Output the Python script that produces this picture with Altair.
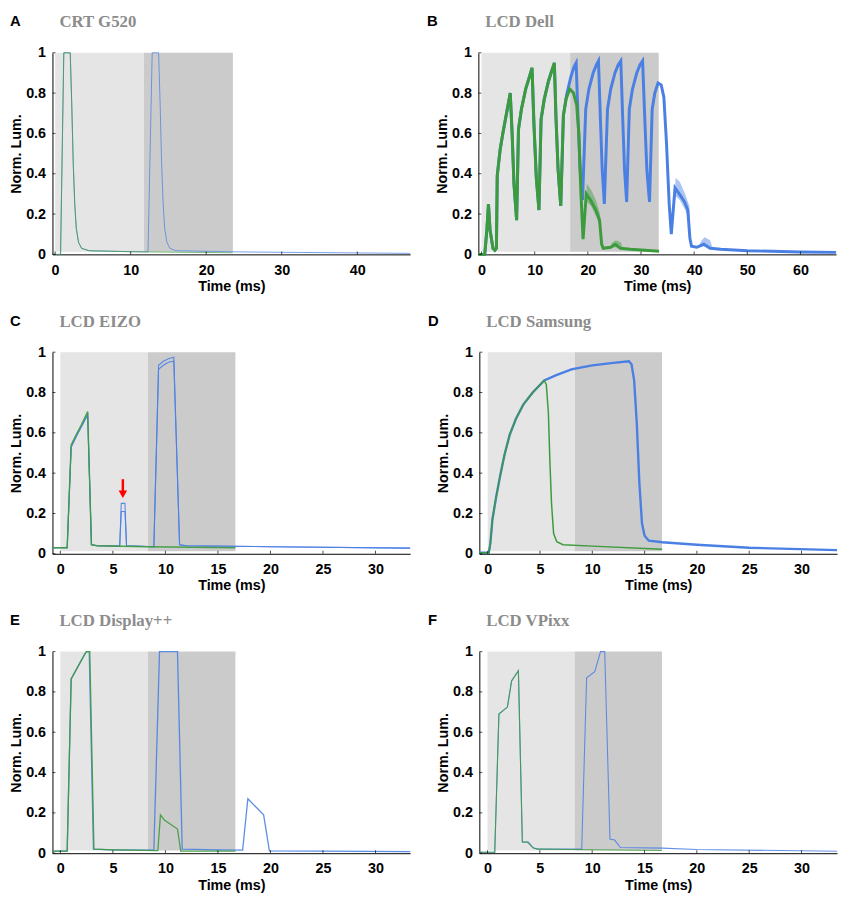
import altair as alt
import pandas as pd

# ---------------- data ----------------
Y_TICKS = [0, 0.2, 0.4, 0.6, 0.8, 1]
SHADE_BOTTOM = 0.013
LIGHT = "#e5e5e5"
DARK = "#cbcbcb"
GREEN = "#3c9b3c"
BLUE = "#4a7fe3"

# Panel A  CRT G520 (85 Hz)
A_T = 11.765
A_X = [-0.35, 47.0]
A_TICKS = [0, 10, 20, 30, 40]
A_green_t = [-0.35, 0.72, 1.15, 2.0, 2.2, 2.4, 2.6, 2.8, 3.1, 3.5, 4.5, 10.0, 23.5]
A_green_v = [0.0, 0.0, 1.0, 1.0, 0.75, 0.45, 0.25, 0.13, 0.06, 0.03, 0.018, 0.013, 0.008]
A_blue_t = [-0.35, 0.72, 1.15, 2.0, 2.2, 2.4, 2.6, 2.8, 3.1, 3.5, 4.5, 12.3, 12.85, 13.7, 13.9,
            14.1, 14.3, 14.5, 14.8, 15.2, 16.0, 25.0, 47.0]
A_blue_v = [0.0, 0.0, 1.0, 1.0, 0.75, 0.45, 0.25, 0.13, 0.06, 0.03, 0.018, 0.012, 1.0, 1.0, 0.75,
            0.45, 0.25, 0.13, 0.06, 0.03, 0.018, 0.012, 0.005]

# Panel B  LCD Dell (60 Hz)
B_T = 16.667
B_X = [-0.6, 66.7]
B_TICKS = [0, 10, 20, 30, 40, 50, 60]
B_common_t = [-0.6, 0.6, 1.0, 1.3, 1.6, 2.15, 2.5, 2.8, 2.95, 3.5, 4.0, 4.7, 5.4, 5.75, 6.1, 6.6,
              6.95, 7.5, 8.3, 9.0, 9.5, 9.85, 10.3, 10.8, 11.2, 11.8, 12.6, 13.2, 13.7, 14.0, 14.4,
              14.9, 15.4]
B_common_v = [0.0, 0.0, 0.12, 0.25, 0.12, 0.03, 0.02, 0.03, 0.39, 0.52, 0.60, 0.70, 0.80, 0.60, 0.35,
              0.17, 0.62, 0.72, 0.82, 0.88, 0.925, 0.65, 0.38, 0.22, 0.67, 0.77, 0.86, 0.91, 0.95,
              0.68, 0.42, 0.24, 0.69]
B_green_t = B_common_t + [15.9, 16.6, 17.3, 17.9, 18.3, 18.7, 19.1, 19.7, 20.5, 21.5, 22.2, 22.6,
                          22.9, 24.3, 25.2, 26.1, 28.0, 33.4]
B_green_v = B_common_v + [0.77, 0.82, 0.80, 0.74, 0.60, 0.30, 0.075, 0.30, 0.27, 0.22, 0.17, 0.05,
                          0.03, 0.035, 0.05, 0.03, 0.025, 0.015]
B_blue_t = B_common_t + [16.0, 16.8, 17.4, 17.8, 18.15, 18.55, 19.0, 19.6, 20.2, 21.0, 21.6, 22.0,
                         22.35, 22.7, 23.1, 23.7, 24.3, 25.1, 25.7, 26.2, 26.55, 26.9, 27.3, 27.8,
                         28.4, 29.2, 29.8, 30.3, 30.7, 31.1, 31.6, 32.1, 32.6, 33.2, 33.8, 34.3,
                         34.8, 35.3, 35.7, 36.4, 37.2, 38.2, 38.8, 39.2, 39.5, 40.5, 41.8, 43.0,
                         45.0, 50.0, 60.0, 66.7]
B_blue_v = B_common_v + [0.79, 0.88, 0.93, 0.95, 0.68, 0.42, 0.27, 0.72, 0.82, 0.90, 0.94, 0.96,
                         0.68, 0.42, 0.25, 0.72, 0.82, 0.90, 0.94, 0.96, 0.68, 0.42, 0.26, 0.72,
                         0.82, 0.90, 0.94, 0.96, 0.68, 0.42, 0.26, 0.72, 0.80, 0.85, 0.84, 0.78,
                         0.55, 0.25, 0.10, 0.33, 0.30, 0.26, 0.22, 0.08, 0.04, 0.035, 0.05, 0.03,
                         0.025, 0.018, 0.012, 0.01]
# spread of the many overlaid traces (fans)
B_gfan_t = [19.5, 19.8, 20.6, 21.5, 22.3, 22.6, 24.0, 24.6, 25.3, 26.2, 26.6]
B_gfan_lo = [0.20, 0.26, 0.24, 0.19, 0.14, 0.04, 0.03, 0.035, 0.035, 0.03, 0.03]
B_gfan_hi = [0.20, 0.35, 0.32, 0.27, 0.20, 0.04, 0.03, 0.06, 0.07, 0.06, 0.03]
B_bfan_t = [36.2, 36.5, 37.3, 38.3, 39.1, 39.4, 40.8, 41.4, 42.0, 43.0, 43.5]
B_bfan_lo = [0.20, 0.29, 0.27, 0.22, 0.17, 0.05, 0.035, 0.04, 0.04, 0.035, 0.03]
B_bfan_hi = [0.20, 0.38, 0.36, 0.30, 0.24, 0.05, 0.035, 0.07, 0.085, 0.07, 0.03]

# Panel C  LCD EIZO (120 Hz)
C_T = 8.333
C_X = [-0.75, 33.3]
C_TICKS = [0, 5, 10, 15, 20, 25, 30]
C_green_t = [-0.75, 0.65, 1.03, 1.5, 2.0, 2.6, 2.96, 3.5, 8.3, 16.67]
C_green_v = [0.03, 0.03, 0.54, 0.59, 0.64, 0.705, 0.045, 0.04, 0.035, 0.03]
C_blue_t = [-0.75, 0.65, 1.03, 1.5, 2.0, 2.6, 2.96, 3.5, 5.65, 5.8, 6.15, 6.3, 8.9, 9.35, 9.8, 10.3,
            10.8, 11.35, 12.0, 20.0, 33.3]
C_blue_v = [0.03, 0.03, 0.53, 0.58, 0.63, 0.69, 0.045, 0.04, 0.038, 0.25, 0.25, 0.04, 0.035, 0.915,
            0.935, 0.95, 0.955, 0.045, 0.04, 0.035, 0.028]
C_blue2_v = [0.03, 0.03, 0.53, 0.58, 0.63, 0.69, 0.045, 0.04, 0.038, 0.21, 0.21, 0.04, 0.035, 0.935,
             0.955, 0.968, 0.975, 0.045, 0.04, 0.035, 0.028]
C_arrow_t = [5.95]
C_arrow_top = [0.37]
C_arrow_end = [0.31]
C_arrow_tip = [0.295]

# Panel D  LCD Samsung (120 Hz)
D_T = 8.333
D_X = [-0.8, 33.4]
D_TICKS = [0, 5, 10, 15, 20, 25, 30]
D_rise_t = [-0.8, 0.1, 0.25, 0.45, 0.8, 1.2, 1.6, 2.1, 2.7, 3.4, 4.3, 5.4]
D_rise_v = [0.005, 0.005, 0.05, 0.17, 0.28, 0.39, 0.49, 0.59, 0.67, 0.74, 0.80, 0.86]
D_green_t = D_rise_t + [5.6, 5.8, 5.95, 6.1, 6.3, 6.6, 7.2, 10.0, 16.67]
D_green_v = D_rise_v + [0.84, 0.70, 0.45, 0.25, 0.10, 0.06, 0.045, 0.038, 0.022]
D_blue_t = D_rise_t + [6.5, 8.0, 10.0, 12.0, 13.5, 13.75, 14.0, 14.25, 14.5, 14.75, 15.0, 15.4,
                       16.7, 20.0, 25.0, 33.4]
D_blue_v = D_rise_v + [0.885, 0.915, 0.935, 0.947, 0.955, 0.94, 0.86, 0.65, 0.35, 0.15, 0.09, 0.065,
                       0.057, 0.045, 0.03, 0.018]

# Panel E  LCD Display++ (120 Hz)
E_T = 8.333
E_X = [-0.75, 33.3]
E_TICKS = [0, 5, 10, 15, 20, 25, 30]
E_green_t = [-0.75, 0.65, 1.03, 2.35, 2.5, 2.8, 3.2, 5.0, 9.28, 9.53, 9.9, 11.15, 11.46, 16.67]
E_green_v = [0.01, 0.01, 0.865, 0.99, 1.0, 1.0, 0.02, 0.017, 0.013, 0.19, 0.165, 0.12, 0.01, 0.01]
E_blue_t = [-0.75, 0.65, 1.03, 2.35, 2.5, 2.75, 3.15, 5.0, 8.9, 9.44, 11.15, 11.6, 15.0, 17.35, 17.85,
            19.35, 19.9, 25.0, 33.3]
E_blue_v = [0.01, 0.01, 0.865, 0.99, 1.0, 1.0, 0.02, 0.017, 0.015, 1.0, 1.0, 0.02, 0.017, 0.015, 0.27,
            0.19, 0.012, 0.01, 0.008]

# Panel F  LCD VPixx (120 Hz)
F_T = 8.333
F_X = [-0.78, 33.4]
F_TICKS = [0, 5, 10, 15, 20, 25, 30]
F_green_t = [-0.78, 0.69, 1.09, 1.9, 2.3, 2.95, 3.33, 3.8, 4.27, 4.7, 8.0, 16.67]
F_green_v = [0.005, 0.005, 0.69, 0.725, 0.855, 0.905, 0.056, 0.055, 0.03, 0.02, 0.018, 0.013]
F_blue_t = [-0.78, 0.69, 1.09, 1.9, 2.3, 2.95, 3.33, 3.9, 4.4, 5.0, 9.0, 9.47, 10.25, 10.8, 11.2,
            11.7, 12.15, 12.7, 16.7, 20.0, 33.4]
F_blue_v = [0.005, 0.005, 0.69, 0.725, 0.855, 0.905, 0.056, 0.055, 0.025, 0.02, 0.02, 0.87, 0.90,
            1.0, 1.0, 0.07, 0.065, 0.028, 0.025, 0.018, 0.01]

LETTERS = ["A", "B", "C", "D", "E", "F"]
NAMES = ["CRT G520", "LCD Dell", "LCD EIZO", "LCD Samsung", "LCD Display++", "LCD VPixx"]

# ---------------- chart ----------------
PW, PH = 362, 204
TITLE_BASE = -26


def line_df(t, v):
    return pd.DataFrame({"t": t, "v": v, "i": list(range(len(t)))})


def panel(idx, T, xdom, xticks, traces, fans=(), arrow=None, letter_dx=-43):
    xs = alt.Scale(domain=xdom, nice=False, zero=False)
    ys = alt.Scale(domain=[0, 1], nice=False, zero=False)
    xaxis = alt.Axis(values=xticks, title="Time (ms)", format="d", labelPadding=9,
                     titlePadding=3, labelFlush=False)
    yaxis = alt.Axis(values=Y_TICKS, title="Norm. Lum.", format=".1~f", labelPadding=7,
                     titlePadding=2)
    X = lambda f: alt.X(f, scale=xs, axis=xaxis)
    Y = lambda f: alt.Y(f, scale=ys, axis=yaxis)
    shade = pd.DataFrame({"x0": [0, T], "x1": [T, 2 * T], "y0": [SHADE_BOTTOM] * 2,
                          "y1": [1, 1], "fill": [LIGHT, DARK]})
    layers = [alt.Chart(shade).mark_rect().encode(
        x=X("x0:Q"), x2="x1:Q", y=Y("y0:Q"), y2="y1:Q",
        fill=alt.Fill("fill:N", scale=None))]
    for (t, lo, hi, color) in fans:
        df = pd.DataFrame({"t": t, "lo": lo, "hi": hi})
        layers.append(alt.Chart(df).mark_area(color=color, opacity=0.45).encode(
            x=X("t:Q"), y=Y("lo:Q"), y2="hi:Q"))
    for (t, v, color, width, opacity) in traces:
        layers.append(alt.Chart(line_df(t, v)).mark_line(
            color=color, strokeWidth=width, opacity=opacity).encode(
            x=X("t:Q"), y=Y("v:Q"), order="i:Q"))
    if arrow is not None:
        adf = pd.DataFrame({"t": arrow[0], "top": arrow[1], "end": arrow[2], "tip": arrow[3]})
        layers.append(alt.Chart(adf).mark_rule(color="#ff0000", strokeWidth=2.5).encode(
            x=X("t:Q"), y=Y("top:Q"), y2="end:Q"))
        layers.append(alt.Chart(adf).mark_point(
            shape="triangle-down", filled=True, size=75, color="#ff0000", opacity=1).encode(
            x=X("t:Q"), y=Y("tip:Q")))
    # small inward ticks, as in the original figure
    layers.append(alt.Chart(pd.DataFrame({"t": xticks})).mark_tick(
        orient="vertical", size=3, thickness=1, color="black").encode(
        x=X("t:Q"), y=alt.value(PH - 1.5)))
    layers.append(alt.Chart(pd.DataFrame({"v": Y_TICKS})).mark_tick(
        orient="horizontal", size=3, thickness=1, color="black").encode(
        y=Y("v:Q"), x=alt.value(1.5)))
    tdf = pd.DataFrame({"letter": [LETTERS[idx]], "name": [NAMES[idx]]})
    layers.append(alt.Chart(tdf).mark_text(
        align="left", baseline="alphabetic", font="Liberation Sans", fontWeight="bold",
        fontSize=15, color="black").encode(
        x=alt.value(letter_dx), y=alt.value(TITLE_BASE - 1), text="letter:N"))
    layers.append(alt.Chart(tdf).mark_text(
        align="left", baseline="alphabetic", font="Liberation Serif", fontWeight="bold",
        fontSize=17, color="#8c8c8c").encode(
        x=alt.value(7), y=alt.value(TITLE_BASE), text="name:N"))
    return alt.layer(*layers).properties(width=PW, height=PH)


pA = panel(0, A_T, A_X, A_TICKS, [
    (A_blue_t, A_blue_v, BLUE, 1.0, 0.75),
    (A_green_t, A_green_v, GREEN, 1.0, 0.7)])
pB = panel(1, B_T, B_X, B_TICKS, [
    (B_blue_t, B_blue_v, BLUE, 3.0, 1.0),
    (B_green_t, B_green_v, GREEN, 3.0, 1.0)],
    fans=[(B_bfan_t, B_bfan_lo, B_bfan_hi, BLUE), (B_gfan_t, B_gfan_lo, B_gfan_hi, GREEN)],
    letter_dx=-52)
pC = panel(2, C_T, C_X, C_TICKS, [
    (C_blue_t, C_blue2_v, BLUE, 1.1, 0.9),
    (C_blue_t, C_blue_v, BLUE, 1.1, 0.9),
    (C_green_t, C_green_v, GREEN, 1.4, 0.9)],
    arrow=(C_arrow_t, C_arrow_top, C_arrow_end, C_arrow_tip))
pD = panel(3, D_T, D_X, D_TICKS, [
    (D_blue_t, D_blue_v, BLUE, 2.4, 1.0),
    (D_green_t, D_green_v, GREEN, 1.5, 1.0)], letter_dx=-52)
pE = panel(4, E_T, E_X, E_TICKS, [
    (E_blue_t, E_blue_v, BLUE, 1.3, 0.9),
    (E_green_t, E_green_v, GREEN, 1.3, 0.9)])
pF = panel(5, F_T, F_X, F_TICKS, [
    (F_blue_t, F_blue_v, BLUE, 1.1, 0.85),
    (F_green_t, F_green_v, GREEN, 1.1, 0.8)], letter_dx=-52)

chart = alt.vconcat(
    alt.hconcat(pA, pB, spacing=15),
    alt.hconcat(pC, pD, spacing=15),
    alt.hconcat(pE, pF, spacing=15),
    spacing=20,
).properties(
    padding={"left": 0, "top": 0, "right": 0, "bottom": 0}
).configure_view(stroke=None).configure_axis(
    labelFont="Liberation Sans", labelFontWeight="bold", labelFontSize=14.5, labelColor="black",
    titleFont="Liberation Sans", titleFontWeight="bold", titleFontSize=14.5, titleColor="black",
    domainColor="black", domainWidth=1, grid=False, ticks=False, tickSize=0,
)

chart.save("out.html", embed_options={"renderer": "svg", "actions": False})
